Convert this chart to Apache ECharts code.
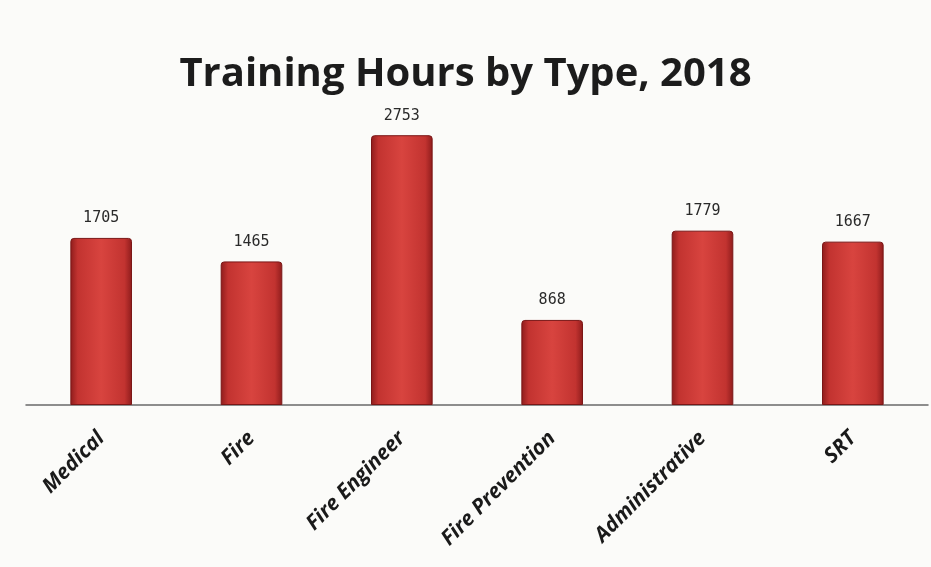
<!DOCTYPE html>
<html>
<head>
<meta charset="utf-8">
<script src="https://cdn.jsdelivr.net/npm/echarts@6/dist/echarts.min.js"></script>
<style>
  html, body { margin: 0; padding: 0; background: #f6f6f3; }
  #chart { width: 931px; height: 567px; }
</style>
</head>
<body>
<div id="chart"></div>
<script>
// training hours per type
const categories = ['Medical', 'Fire', 'Fire Engineer', 'Fire Prevention', 'Administrative', 'SRT']
const hours = [1705, 1465, 2753, 868, 1779, 1667]

const chart = echarts.init(document.getElementById('chart'))

// darker edges, lighter middle — mimics the bevelled Excel bar
const barFill = new echarts.graphic.LinearGradient(0, 0, 1, 0, [
  { offset: 0, color: '#8e1c1c' },
  { offset: 0.12, color: '#c23330' },
  { offset: 0.5, color: '#d8443f' },
  { offset: 0.88, color: '#c23330' },
  { offset: 1, color: '#8e1c1c' },
])

chart.setOption({
  backgroundColor: '#fbfbf9',
  title: {
    text: 'Training Hours by Type, 2018',
    left: 'center',
    top: 50,
    textStyle: {
      fontFamily: '"Open Sans", sans-serif',
      fontWeight: 'bold',
      fontSize: 40,
      color: '#1c1c1c',
    },
  },
  grid: { left: 26, right: 3, top: 111, bottom: 162, containLabel: false },
  xAxis: {
    type: 'category',
    data: categories,
    axisLine: { lineStyle: { color: '#6a6a6a', width: 1.5 } },
    axisTick: { show: false },
    axisLabel: {
      rotate: 45,
      margin: 30,
      interval: 0,
      fontFamily: '"Open Sans", "DejaVu Sans", sans-serif',
      fontStyle: 'italic',
      fontWeight: 'bold',
      fontSize: 21,
      color: '#1a1a1a',
    },
  },
  yAxis: {
    type: 'value',
    min: 0,
    max: 3000,
    show: false,
    splitLine: { show: false },
  },
  series: [{
    type: 'bar',
    data: hours,
    barWidth: '41%',
    itemStyle: {
      color: barFill,
      borderColor: '#7a1616',
      borderWidth: 1,
      borderRadius: [3, 3, 0, 0],
    },
    label: {
      show: true,
      position: 'top',
      distance: 12,
      fontFamily: '"DejaVu Sans Mono", monospace',
      fontSize: 15,
      color: '#2a2a2a',
    },
  }],
})
</script>
</body>
</html>
